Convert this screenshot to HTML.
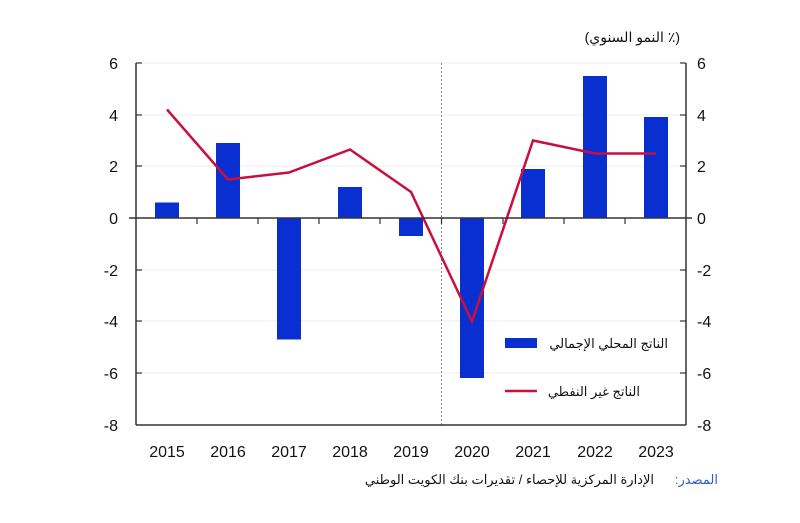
<!DOCTYPE html>
<html><head><meta charset="utf-8"><style>body{margin:0;background:#fff}</style></head><body>
<svg width="800" height="518" xmlns="http://www.w3.org/2000/svg" font-family="Liberation Sans, DejaVu Sans, sans-serif">
<rect width="800" height="518" fill="#fff"/>
<g stroke="#eee" stroke-width="1">
<line x1="136" y1="63" x2="686" y2="63"/><line x1="136" y1="115" x2="686" y2="115"/><line x1="136" y1="166" x2="686" y2="166"/>
<line x1="136" y1="270" x2="686" y2="270"/><line x1="136" y1="321" x2="686" y2="321"/><line x1="136" y1="373" x2="686" y2="373"/>
</g>
<line x1="441.5" y1="63" x2="441.5" y2="425" stroke="#7a8a8a" stroke-width="1" stroke-dasharray="2,2"/>
<g fill="#0a2fd0">
<rect x="155" y="202.5" width="24" height="15.5"/>
<rect x="216" y="143" width="24" height="75"/>
<rect x="277" y="218" width="24" height="121.5"/>
<rect x="338" y="187" width="24" height="31"/>
<rect x="399" y="218" width="24" height="18"/>
<rect x="460" y="218" width="24" height="160"/>
<rect x="521" y="169" width="24" height="49"/>
<rect x="583" y="76" width="24" height="142"/>
<rect x="644" y="117" width="24" height="101"/>
</g>
<polyline fill="none" stroke="#c8103e" stroke-width="2.5" points="167,109.5 228,179.5 289,172.5 350,149.5 411,192 472,321.5 533,140.5 595,153.5 656,153.5"/>
<g stroke="#333" stroke-width="1.5" fill="none">
<line x1="136" y1="63" x2="136" y2="425"/><line x1="686" y1="63" x2="686" y2="425"/>
<line x1="136" y1="425" x2="686" y2="425"/><line x1="129" y1="218" x2="692" y2="218"/>
</g>
<g stroke="#333" stroke-width="1.2">
<line x1="136" y1="63" x2="142" y2="63"/><line x1="136" y1="115" x2="142" y2="115"/><line x1="136" y1="166" x2="142" y2="166"/><line x1="136" y1="270" x2="142" y2="270"/><line x1="136" y1="321" x2="142" y2="321"/><line x1="136" y1="373" x2="142" y2="373"/>
<line x1="680" y1="63" x2="686" y2="63"/><line x1="680" y1="115" x2="686" y2="115"/><line x1="680" y1="166" x2="686" y2="166"/><line x1="680" y1="270" x2="686" y2="270"/><line x1="680" y1="321" x2="686" y2="321"/><line x1="680" y1="373" x2="686" y2="373"/>
<line x1="197" y1="218" x2="197" y2="224"/><line x1="258" y1="218" x2="258" y2="224"/><line x1="319" y1="218" x2="319" y2="224"/><line x1="380" y1="218" x2="380" y2="224"/><line x1="441.5" y1="218" x2="441.5" y2="224"/><line x1="503" y1="218" x2="503" y2="224"/><line x1="564" y1="218" x2="564" y2="224"/><line x1="625" y1="218" x2="625" y2="224"/>
</g>
<g font-size="16" fill="#111" text-anchor="end">
<text x="118" y="69">6</text><text x="118" y="121">4</text><text x="118" y="172">2</text><text x="118" y="224">0</text><text x="118" y="276">-2</text><text x="118" y="327">-4</text><text x="118" y="379">-6</text><text x="118" y="431">-8</text>
</g>
<g font-size="16" fill="#111">
<text x="697" y="69">6</text><text x="697" y="121">4</text><text x="697" y="172">2</text><text x="697" y="224">0</text><text x="697" y="276">-2</text><text x="697" y="327">-4</text><text x="697" y="379">-6</text><text x="697" y="431">-8</text>
</g>
<g font-size="16" fill="#111" text-anchor="middle">
<text x="167" y="457">2015</text><text x="228" y="457">2016</text><text x="289" y="457">2017</text><text x="350" y="457">2018</text><text x="411" y="457">2019</text><text x="472" y="457">2020</text><text x="533" y="457">2021</text><text x="595" y="457">2022</text><text x="656" y="457">2023</text>
</g>
<text x="680" y="42" font-size="14" direction="rtl" text-anchor="start" fill="#111">(٪ النمو السنوي)</text>
<rect x="505" y="338" width="32" height="10" fill="#0a2fd0"/>
<text x="668" y="348" font-size="13" direction="rtl" text-anchor="start" fill="#111">الناتج المحلي الإجمالي</text>
<line x1="505" y1="391" x2="537" y2="391" stroke="#c8103e" stroke-width="2.5"/>
<text x="640" y="396" font-size="13" direction="rtl" text-anchor="start" fill="#111">الناتج غير النفطي</text>
<text x="718" y="484" font-size="13" direction="rtl" text-anchor="start" fill="#2a5bd0">المصدر:</text>
<text x="654" y="484" font-size="13" direction="rtl" text-anchor="start" fill="#111">الإدارة المركزية للإحصاء / تقديرات بنك الكويت الوطني</text>
</svg>
</body></html>
